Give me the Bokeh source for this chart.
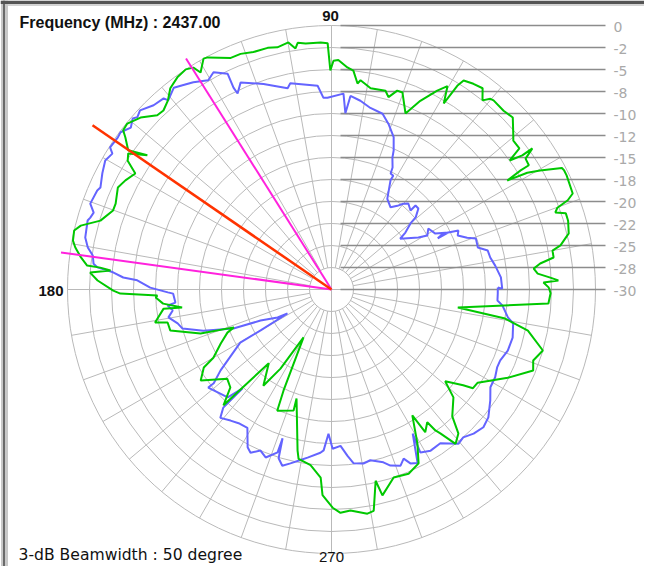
import numpy as np
from bokeh.plotting import figure
from bokeh.models import Range1d, Label
from bokeh.embed import file_html
from bokeh.resources import INLINE

# ---------------- data ----------------
freq_text = "2437.00"
beamwidth_deg = 50
db_min = -30.0
ring_step_db = 2.5
ring_labels = ["0", "-2", "-5", "-8", "-10", "-12", "-15", "-18", "-20", "-22", "-25", "-28", "-30"]
spoke_step_deg = 10

beam_left_deg = 122.2
beam_right_deg = 172.2
peak_deg = 145.5

green_angle = [0.5, 1.9, 2.3, 3.1, 4.4, 5.9, 7.1, 8.2, 10.0, 10.9, 13.3, 16.2, 18.0, 19.0, 19.9, 20.7,
               21.7, 25.9, 27.1, 27.8, 29.7, 30.8, 31.8, 32.2, 32.2, 34.0, 35.1, 35.1, 35.9, 36.9, 39.3,
               40.6, 43.5, 46.1, 49.4, 50.2, 51.4, 53.1, 55.4, 57.7, 58.3, 58.9, 60.3, 62.0, 64.8, 67.2,
               70.2, 71.7, 73.5, 74.8, 79.0, 82.1, 82.8, 84.3, 85.9, 88.3, 89.5, 90.3, 90.9, 92.5, 96.0,
               97.8, 98.5, 99.9, 102.6, 104.8, 108.2, 111.1, 113.5, 118.1, 119.0, 121.1, 121.9, 123.5,
               126.0, 128.7, 130.9, 133.2, 135.0, 138.0, 140.9, 142.6, 143.6, 145.6, 143.9, 146.2, 147.7,
               149.4, 152.1, 154.5, 158.3, 160.1, 163.4, 165.7, 167.1, 169.3, 170.7, 172.7, 174.4, 174.6,
               175.1, 176.0, 177.8, 180.3, 181.1, 182.0, 182.6, 184.8, 186.9, 186.5, 190.6, 191.4, 194.3,
               198.6, 201.2, 202.5, 206.0, 210.0, 211.4, 214.8, 220.6, 224.1, 227.0, 229.6, 234.7, 237.2,
               239.7, 244.6, 245.9, 252.6, 252.2, 258.1, 259.0, 263.2, 266.7, 267.5, 270.3, 272.3, 274.9,
               279.1, 280.8, 283.0, 283.9, 288.3, 292.7, 296.6, 299.2, 302.7, 303.3, 305.8, 306.4, 307.1,
               308.8, 311.4, 313.6, 318.5, 321.1, 324.0, 325.1, 327.5, 333.4, 338.1, 340.6, 343.9, 348.2,
               350.5, 351.9, 356.3, 359.0]
green_db = [-5.3, -5.9, -4.2, -5.1, -6.5, -6.9, -6.1, -4.5, -4.5, -3.5, -2.3, -2.0, -2.0, -3.1, -2.7, -1.3,
            -0.5, -0.3, -0.3, -0.4, -2.7, -4.1, -6.5, -4.6, -3.5, -3.4, -2.1, -3.5, -5.0, -3.3, -3.3,
            -2.8, -1.6, -1.8, -1.7, -1.8, -2.5, -1.4, -1.6, -1.9, -2.8, -5.3, -3.4, -4.4, -6.3, -8.3,
            -6.2, -6.2, -7.2, -6.6, -6.7, -6.0, -6.4, -5.0, -4.7, -3.9, -4.0, -5.1, -2.0, -1.9, -1.9,
            -1.7, -2.3, -1.5, -1.8, -1.6, -1.6, -1.3, -1.3, -0.1, 0.0, -1.2, -0.3, 0.0,
            -0.2, -0.7, -1.6, -2.1, -2.0, -0.8, -0.1, -0.2, -0.9, -2.0, -4.1, -2.2, -2.6,
            -4.1, -3.5, -3.1, -3.6, -3.6, -2.6, -0.6, 0.0, -0.1, -0.5, -1.3, -2.1, -3.6,
            -4.8, -2.5, -3.4, -5.2, -6.0, -10.2, -10.0, -10.8, -12.9, -10.8, -9.6, -11.0, -11.1,
            -14.3, -18.1, -17.2, -16.0, -14.5, -13.0, -11.9, -14.4, -14.0, -12.0, -19.0, -16.6, -19.3,
            -23.7, -17.3, -14.9, -15.6, -17.0, -11.3, -10.4, -9.9, -8.6, -6.6, -5.2, -4.6, -4.8,
            -4.2, -4.4, -7.7, -5.9, -7.5, -7.3, -7.9, -10.0, -13.0, -10.6, -11.4, -10.1, -9.5,
            -7.5, -8.2, -10.1, -11.5, -13.4, -11.5, -10.4, -10.3, -7.6, -5.3, -5.7, -5.0, -7.2,
            -10.0, -15.5, -5.3, -5.1]

blue_angle = [0.7, 0.3, 4.1, 8.3, 11.4, 14.0, 16.0, 19.5, 20.9, 23.2, 24.9, 26.6, 25.7, 26.0, 28.3, 32.2,
              29.4, 30.9, 36.5, 37.6, 39.9, 40.6, 43.0, 45.0, 45.0, 48.2, 50.1, 51.8, 54.3, 58.4, 61.6,
              61.5, 63.0, 63.4, 65.2, 65.9, 67.8, 71.0, 73.8, 77.9, 81.3, 84.4, 85.5, 86.5, 91.2, 92.4,
              93.9, 101.3, 102.3, 108.3, 113.7, 115.6, 115.9, 115.7, 118.5, 120.5, 123.7, 126.5, 128.0,
              130.8, 131.3, 134.0, 136.9, 138.4, 139.3, 141.1, 143.3, 144.6, 147.3, 148.2, 150.3, 153.1,
              156.2, 157.1, 160.4, 162.1, 163.4, 164.2, 168.1, 170.2, 171.9, 173.8, 174.6, 175.5, 176.7,
              177.3, 179.4, 181.0, 181.5, 184.8, 185.6, 187.5, 189.7, 192.4, 194.7, 197.8, 201.7, 203.6,
              207.4, 208.6, 210.0, 210.2, 216.1, 218.5, 218.5, 226.1, 228.0, 227.5, 229.1, 232.4, 235.2,
              238.7, 242.0, 243.6, 246.2, 248.6, 251.7, 251.8, 252.6, 254.4, 256.7, 259.7, 261.9, 266.1,
              267.2, 268.8, 270.4, 273.3, 275.5, 277.2, 280.4, 282.8, 286.7, 288.5, 291.4, 293.1, 294.4,
              296.4, 299.4, 298.6, 301.6, 305.3, 309.5, 311.7, 314.6, 317.8, 320.8, 325.1, 328.4, 331.8,
              334.8, 337.2, 340.9, 345.1, 349.4, 351.0, 354.7, 356.2, 358.6]
blue_db = [-11.1, -10.6, -10.7, -11.2, -11.6, -11.7, -12.7, -12.6, -13.5, -14.4, -14.1, -15.8, -16.6, -15.2, -16.6, -17.0,
           -17.5, -18.5, -20.3, -19.4, -18.3, -17.4, -16.5, -16.5, -17.3, -16.9, -17.3, -17.9, -18.5, -17.9, -15.9,
           -15.3, -15.2, -14.5, -13.5, -12.7, -11.3, -10.1, -9.2, -8.9, -8.3, -7.9, -9.9, -7.7, -8.2, -8.2,
           -6.8, -6.1, -6.6, -5.4, -4.3, -5.3, -4.5, -2.8, -1.9, -2.4, -1.7, -1.2, -0.9,
           -1.6, -1.1, -0.9, -0.2, -0.5, -0.2, -0.7, -0.1, -0.2, -0.1, -0.7, -0.4, -0.8,
           -1.3, -1.1, -0.9, -1.6, -1.4, -1.2, -1.4, -1.9, -2.6, -2.8, -3.3, -5.1, -6.3,
           -7.9, -9.4, -11.4, -12.0, -12.2, -11.3, -11.8, -11.2, -12.1, -12.5, -14.7, -18.0, -21.2,
           -23.1, -24.3, -20.7, -18.0, -14.4, -12.9, -12.1, -13.0, -14.9, -11.8, -10.7, -11.2, -11.5,
           -11.6, -9.7, -9.3, -10.0, -9.5, -10.5, -12.2, -9.9, -9.2, -9.7, -10.3, -10.7, -11.4,
           -11.7, -13.6, -11.9, -12.2, -11.0, -10.1, -9.9, -10.1, -9.5, -8.9, -8.5, -9.1, -8.3,
           -8.0, -11.2, -8.9, -8.5, -8.6, -7.3, -7.5, -7.0, -6.7, -7.0, -8.0, -8.8, -8.9,
           -9.2, -9.2, -8.8, -8.7, -9.0, -9.7, -10.5, -11.1, -11.1]

# ---------------- geometry helpers ----------------
R_OUT = 264.0                      # pixel radius of the 0 dB ring
px_per_db = R_OUT / -db_min


def polar(ang_deg, db):
    a = np.radians(np.asarray(ang_deg, dtype=float))
    r = (np.asarray(db, dtype=float) - db_min) * px_per_db
    return r * np.cos(a), r * np.sin(a)


p = figure(width=644, height=566, x_range=Range1d(-331, 313), y_range=Range1d(-277, 289),
           output_backend="svg", toolbar_location=None, min_border=0,
           x_axis_location=None, y_axis_location=None)
p.grid.visible = False
p.outline_line_color = None
p.background_fill_color = "white"
p.border_fill_color = "white"

# window frame (left and top edges)
p.quad(left=[-330.5], right=[-323.5], bottom=[-277], top=[289], fill_color="#c8c8c8", line_color=None)
p.line([-327.5, -327.5], [-277, 289], line_color="#6a6a6a", line_width=2)
p.quad(left=[-331], right=[313], bottom=[285.5], top=[289], fill_color="#555555", line_color=None)
p.line([-323.5, 313], [284.5, 284.5], line_color="#a8a8a8", line_width=1)

grid_col = "#b9b9b9"
n_rings = int(-db_min / ring_step_db)
ring_r = [(k + 1) * ring_step_db * px_per_db for k in range(n_rings)]
p.circle(x=[0] * n_rings, y=[0] * n_rings, radius=ring_r, fill_color=None,
         line_color=grid_col, line_width=1)

r_in = ring_r[0]
sx0, sy0, sx1, sy1 = [], [], [], []
for a in range(0, 360, spoke_step_deg):
    rr0 = 0 if a % 90 == 0 else r_in
    t = np.radians(a)
    sx0.append(rr0 * np.cos(t)); sy0.append(rr0 * np.sin(t))
    sx1.append(R_OUT * np.cos(t)); sy1.append(R_OUT * np.sin(t))
p.segment(sx0, sy0, sx1, sy1, line_color=grid_col, line_width=1)

# dB scale lines and labels on the right
lbl_y = [R_OUT - i * ring_step_db * px_per_db for i in range(len(ring_labels))]
p.segment(x0=[9] * len(lbl_y), y0=lbl_y, x1=[274] * len(lbl_y), y1=lbl_y,
          line_color="#8c8c8c", line_width=1.6)
p.text(x=[282] * len(lbl_y), y=[v - 1.5 for v in lbl_y], text=ring_labels,
       text_font={"value": "DejaVu Sans"}, text_font_size="14px", text_color="#a9a9a9",
       text_baseline="middle", text_align="left")

# pattern curves
bx, by = polar(blue_angle + blue_angle[:1], blue_db + blue_db[:1])
p.line(bx, by, line_color="#6464ff", line_width=2)
gx, gy = polar(green_angle + green_angle[:1], green_db + green_db[:1])
p.line(gx, gy, line_color="#00c800", line_width=2)

# beamwidth and peak direction lines
for ang in (beam_left_deg, beam_right_deg):
    t = np.radians(ang)
    p.line([0, 273 * np.cos(t)], [0, 273 * np.sin(t)], line_color="#ff22dd", line_width=2)
t = np.radians(peak_deg)
p.line([0, 290 * np.cos(t)], [0, 290 * np.sin(t)], line_color="#ff3300", line_width=2.5)

# texts
p.add_layout(Label(x=-312, y=259, text=f"Frequency (MHz) : {freq_text}", text_font="Liberation Sans",
                   text_font_style="bold", text_font_size="16px", text_color="#111111"))
p.add_layout(Label(x=-313, y=-274, text=f"3-dB Beamwidth : {beamwidth_deg}  degree", text_font="DejaVu Sans",
                   text_font_size="15.6px", text_color="#111111"))
p.add_layout(Label(x=-1, y=269, text="90", text_font="Liberation Sans", text_font_style="bold",
                   text_font_size="15px", text_align="center", text_color="#111111"))
p.add_layout(Label(x=-268, y=-6, text="180", text_font="Liberation Sans", text_font_style="bold",
                   text_font_size="15px", text_align="right", text_color="#111111"))
p.add_layout(Label(x=0, y=-272, text="270", text_font="Liberation Sans",
                   text_font_size="15px", text_align="center", text_color="#111111"))

open("out.html", "w").write(file_html(p, INLINE))
